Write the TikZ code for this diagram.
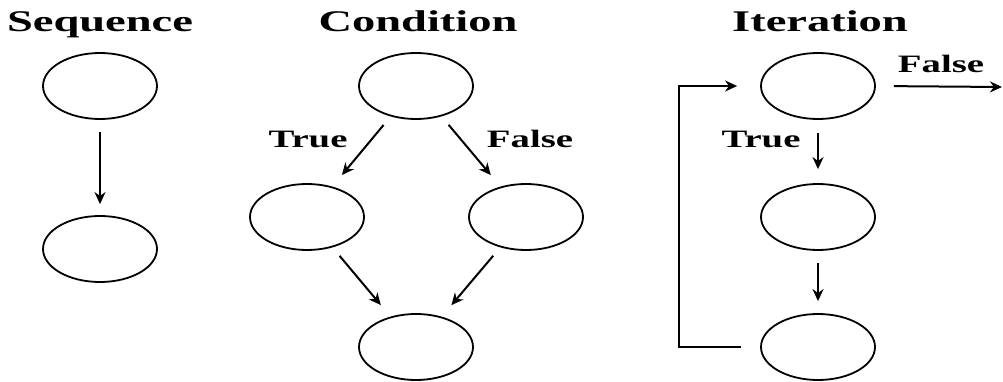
\documentclass[tikz,border=0pt]{standalone}
\usepackage{fontspec}
\setmainfont{Liberation Serif}
\usetikzlibrary{shapes.geometric,arrows.meta}
\begin{document}
\begin{tikzpicture}[x=1pt,y=1pt,
        elip/.style={ellipse,draw,line width=1.8pt,minimum width=114pt,minimum height=66pt,inner sep=0pt},
        flecha/.style={line width=2pt,-{Stealth[length=12pt,width=11pt]}},
        titulo/.style={font=\bfseries\fontsize{30}{30}\selectfont,xscale=1.55,anchor=base,inner sep=0pt},
        etiq/.style={font=\bfseries\fontsize{25}{25}\selectfont,xscale=1.55,anchor=base,inner sep=0pt}]
        \useasboundingbox (0,0) rectangle (1003,381);

        %titulos
        \node[titulo] (tseq) at (100,349) {Sequence};
        \node[titulo] (tcon) at (418,349) {Condition};
        \node[titulo] (tite) at (820,349) {Iteration};

        % elipses
        \foreach \n/\x/\y in {s1/100/295,s2/100/132,c1/416/295,c2/307/164,c3/526/164,c4/416/34,i1/818/295,i2/818/164,i3/818/34}
            \node[elip] (\n) at (\x,\y) {};

        %secuencia
        \draw[flecha,shorten <=12pt,shorten >=11pt] (s1) -- (s2);

        %condicion
        \draw[flecha,shorten <=11pt,shorten >=15pt] (c1) -- (c2);
        \draw[flecha,shorten <=11pt,shorten >=15pt] (c1) -- (c3);
        \draw[flecha,shorten <=11pt,shorten >=15pt] (c2) -- (c4);
        \draw[flecha,shorten <=11pt,shorten >=15pt] (c3) -- (c4);
        \node[etiq] (ctrue) at (308,234) {True};
        \node[etiq] (cfalse) at (530,234) {False};

        %iteracion
        \draw[flecha,shorten <=13pt,shorten >=14pt] (i1) -- (i2);
        \draw[flecha,shorten <=12pt,shorten >=12pt] (i2) -- (i3);
        \coordinate (fin) at (1002,294);
        \draw[flecha,shorten <=18pt] (i1.east) -- (fin);
        \draw[flecha,shorten <=19pt,shorten >=23pt] (i3.west) -- ++(-81,0) |- (i1.west);
        \node[etiq] (itrue) at (761,234) {True};
        \node[etiq] (ifalse) at (941,308) {False};
    \end{tikzpicture}
\end{document}
